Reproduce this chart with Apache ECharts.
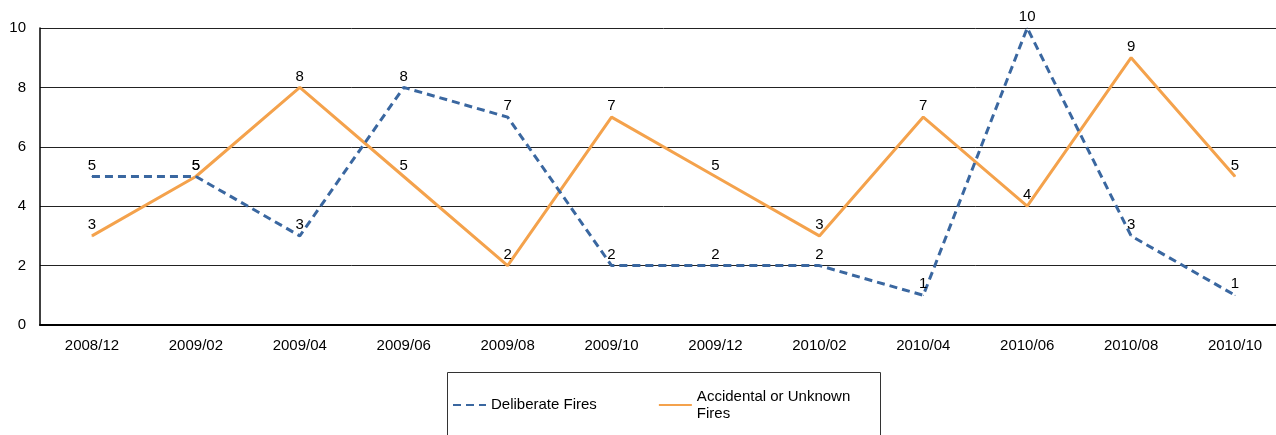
<!DOCTYPE html>
<html><head><meta charset="utf-8">
<script src="https://cdn.jsdelivr.net/npm/echarts@6/dist/echarts.min.js"></script>
<style>html,body{margin:0;padding:0;background:#fff;overflow:hidden;width:1276px;height:435px}#c{width:1290px;height:435px}</style>
</head><body><div id="c"></div>
<script>
const categories = ['2008/12','2009/02','2009/04','2009/06','2009/08','2009/10','2009/12','2010/02','2010/04','2010/06','2010/08','2010/10'];
const deliberate = [5,5,3,8,7,2,2,2,1,10,3,1];
const accidental = [3,5,8,5,2,7,5,3,7,4,9,5];
const yTicks = [0,2,4,6,8,10];
const FONT = '"Liberation Sans", Arial, sans-serif';
const chart = echarts.init(document.getElementById('c'), null, {renderer:'canvas'});
const lbl = {show:true, position:'top', distance:3, color:'#000', fontFamily:FONT, fontSize:15};
chart.setOption({
  animation:false,
  backgroundColor:'#fff',
  grid:{left:40, top:28, width:1247, height:297, containLabel:false},
  xAxis:{type:'category', data:categories, boundaryGap:true,
    axisLine:{lineStyle:{color:'#000', width:2}}, axisTick:{show:false},
    axisLabel:{color:'#000', fontFamily:FONT, fontSize:15, margin:13}},
  yAxis:{type:'value', min:yTicks[0], max:yTicks[yTicks.length-1], interval:2,
    axisLine:{show:true, lineStyle:{color:'#000', width:1.5}}, axisTick:{show:false},
    axisLabel:{color:'#000', fontFamily:FONT, fontSize:15, margin:14},
    splitLine:{lineStyle:{color:'#222', width:1}}},
  legend:{left:452, top:388, padding:0, itemWidth:33, itemHeight:14, itemGap:61,
    itemStyle:{opacity:0},
    textStyle:{color:'#000', fontFamily:FONT, fontSize:15, lineHeight:17},
    formatter:n=> n==='Accidental or Unknown Fires' ? 'Accidental or Unknown\nFires' : n},
  graphic:[{type:'rect', shape:{x:447.5, y:372.5, width:433, height:80}, style:{fill:'none', stroke:'#333', lineWidth:1}, z:-1}],
  series:[
    {name:'Deliberate Fires', type:'line', data:deliberate, symbol:'circle', symbolSize:1, showSymbol:true, z:3,
     lineStyle:{color:'#3A67A0', width:3, type:[8,5]}, itemStyle:{color:'#3A67A0'}, label:lbl},
    {name:'Accidental or Unknown Fires', type:'line', data:accidental, symbol:'circle', symbolSize:1, showSymbol:true, z:2,
     lineStyle:{color:'#F4A24C', width:3}, itemStyle:{color:'#F4A24C'}, label:lbl}
  ]
});
</script></body></html>
